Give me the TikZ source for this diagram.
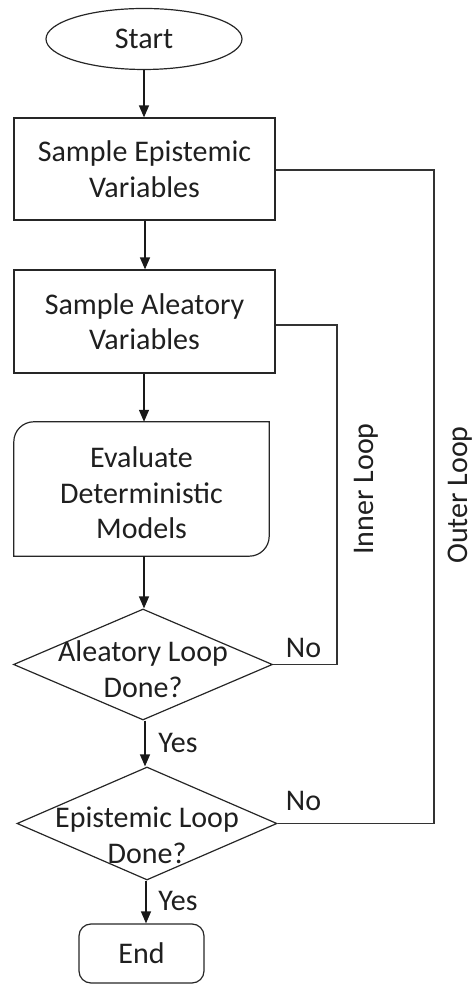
\documentclass[tikz,border=0pt]{standalone}
\usepackage{fontspec}
\setmainfont{Carlito}
\usetikzlibrary{shapes.geometric,arrows.meta}
\begin{document}
\begin{tikzpicture}[x=1pt,y=1pt,
  txt/.style={font=\fontsize{30}{35.5}\selectfont, text=black!88, align=center, inner sep=0pt},
  base/.style={txt, draw=black!85, line width=1.2pt},
  startnode/.style={base, ellipse, minimum width=196pt, minimum height=61pt},
  procbox/.style={base, rectangle, minimum width=261pt, minimum height=102pt},
  ghostbox/.style={rectangle, inner sep=0pt, minimum width=255pt, minimum height=134pt},
  decision/.style={diamond, draw=black!85, line width=1.2pt, inner sep=0pt},
  endnode/.style={base, rectangle, rounded corners=12pt, minimum width=125pt, minimum height=59pt},
  arrowline/.style={draw=black!90, line width=1.3pt, -{Triangle[width=10pt,length=12pt]}},
  loopline/.style={draw=black!80, line width=1.1pt},
  lbl/.style={txt},
  vlbl/.style={txt, rotate=90}
]
\useasboundingbox (0,0) rectangle (475,984);

\node[startnode] (start) at (144,945) {Start};
\node[procbox] (b1) at (144.5,815) {Sample Epistemic\\Variables};
\node[procbox, minimum height=103pt] (b2) at (144.5,662.5) {Sample Aleatory\\Variables};
\node[ghostbox] (b3) at (141.5,495) {};
\node[txt] (b3t) at (141.5,491) {Evaluate\\Deterministic\\Models};
\draw[draw=black!85, line width=1.2pt]
  (b3.south west) -- ([yshift=-20pt]b3.north west)
  arc[start angle=180, end angle=90, radius=20pt]
  -- (b3.north east) -- ([yshift=20pt]b3.south east)
  arc[start angle=0, end angle=-90, radius=20pt]
  -- cycle;
\node[decision, minimum width=259pt, minimum height=111pt] (d1) at (143,319.5) {};
\node[txt] (d1t) at (143,315) {Aleatory Loop\\Done?};
\node[decision, minimum width=260pt, minimum height=113pt] (d2) at (147,160.5) {};
\node[txt] (d2t) at (147,148.5) {Epistemic Loop\\Done?};
\node[endnode] (end) at (141.5,30.5) {End};

\draw[arrowline] (start.south) -- (start.south |- b1.north);
\draw[arrowline] ([xshift=0.5pt]b1.south) -- ([xshift=0.5pt]b1.south |- b2.north);
\draw[arrowline] ([xshift=-0.5pt]b2.south) -- ([xshift=-0.5pt]b2.south |- b3.north);
\draw[arrowline] ([xshift=2.5pt]b3.south) -- ([xshift=2.5pt]b3.south |- d1.north);
\draw[arrowline] ([xshift=2pt]d1.south) -- ([xshift=2pt]d1.south |- d2.north);
\draw[arrowline] ([xshift=-1pt]d2.south) -- ([xshift=-1pt]d2.south |- end.north);

\coordinate (in1) at (337,659);
\coordinate (out1) at (434,814);
\draw[loopline] (d1.east) -| (in1) -- ([yshift=-3.5pt]b2.east);
\draw[loopline] (d2.east) -| (out1) -- (b1.east |- out1);

\node[lbl] (no1) at (303.5,336.5) {No};
\node[lbl] (no2) at (303.5,183) {No};
\node[lbl] (yes1) at (178,241) {Yes};
\node[lbl] (yes2) at (178,83) {Yes};
\node[vlbl] (inner) at (366,495) {Inner Loop};
\node[vlbl] (outer) at (460,489) {Outer Loop};
\end{tikzpicture}
\end{document}
